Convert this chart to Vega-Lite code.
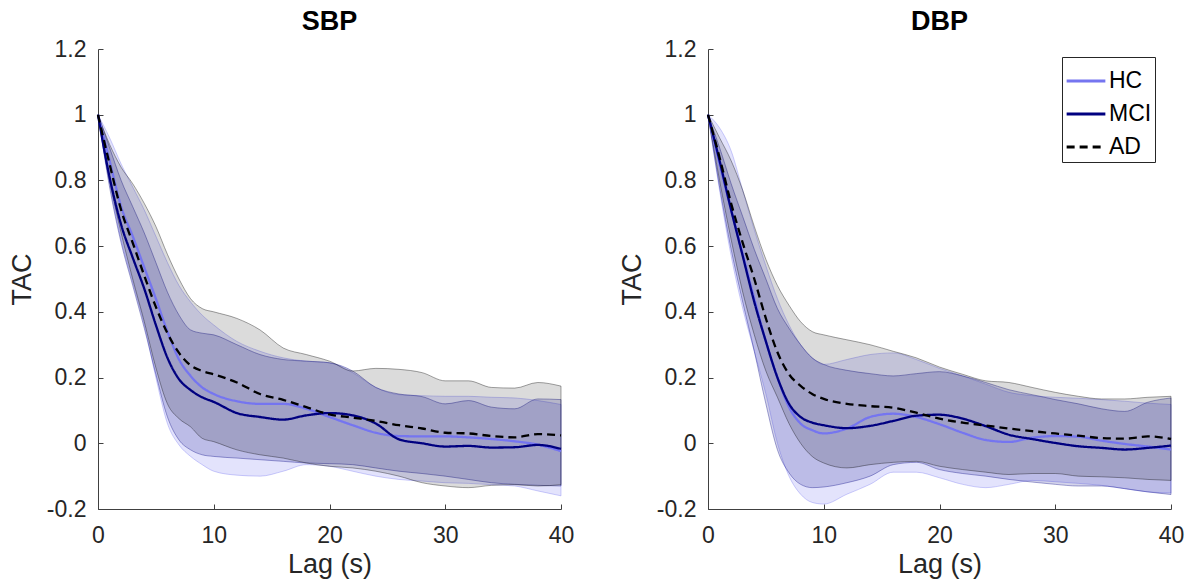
{
"$schema": "https://vega.github.io/schema/vega-lite/v6.json",
"background": "white",
"padding": {"left": 8, "top": 8, "right": 10, "bottom": 4},
"spacing": 44,
"config": {
 "view": {"stroke": null},
 "font": "Liberation Sans",
 "axis": {"labelFont": "Liberation Sans", "labelFontSize": 23, "labelColor": "#262626", "titleFont": "Liberation Sans", "titleFontSize": 27, "titleFontWeight": "normal", "titleColor": "#262626", "domainColor": "#404040", "tickColor": "#404040", "grid": false, "tickSize": -5, "labelFlush": false},
 "axisX": {"titlePadding": 4, "labelPadding": 20},
 "axisY": {"titlePadding": 10, "labelPadding": 17},
 "title": {"font": "Liberation Sans", "fontSize": 27, "fontWeight": "bold", "color": "#000000", "offset": 2, "frame": "group"},
 "legend": {"orient": "none", "legendX": 964, "legendY": 8, "symbolType": "stroke", "symbolSize": 1500, "symbolStrokeWidth": 2.8, "symbolOpacity": 1, "labelFont": "Liberation Sans", "labelFontSize": 23, "labelColor": "#000000", "strokeColor": "#262626", "fillColor": "white", "padding": 3, "rowPadding": 0, "labelOffset": 2, "cornerRadius": 0}
},
"datasets": {"d": [
{"p":"SBP","g":"HC","lag":0,"m":1,"lo":1,"hi":1},
{"p":"SBP","g":"HC","lag":1,"m":0.86,"lo":0.79,"hi":0.93},
{"p":"SBP","g":"HC","lag":2,"m":0.72,"lo":0.62,"hi":0.85},
{"p":"SBP","g":"HC","lag":3,"m":0.63,"lo":0.49,"hi":0.78},
{"p":"SBP","g":"HC","lag":4,"m":0.535,"lo":0.36,"hi":0.71},
{"p":"SBP","g":"HC","lag":5,"m":0.44,"lo":0.2,"hi":0.63},
{"p":"SBP","g":"HC","lag":6,"m":0.34,"lo":0.06,"hi":0.55},
{"p":"SBP","g":"HC","lag":7,"m":0.255,"lo":-0.005,"hi":0.48},
{"p":"SBP","g":"HC","lag":8,"m":0.205,"lo":-0.04,"hi":0.43},
{"p":"SBP","g":"HC","lag":9,"m":0.17,"lo":-0.065,"hi":0.39},
{"p":"SBP","g":"HC","lag":10,"m":0.15,"lo":-0.085,"hi":0.36},
{"p":"SBP","g":"HC","lag":12,"m":0.128,"lo":-0.097,"hi":0.31},
{"p":"SBP","g":"HC","lag":14,"m":0.12,"lo":-0.1,"hi":0.28},
{"p":"SBP","g":"HC","lag":16,"m":0.12,"lo":-0.085,"hi":0.26},
{"p":"SBP","g":"HC","lag":18,"m":0.105,"lo":-0.065,"hi":0.25},
{"p":"SBP","g":"HC","lag":20,"m":0.08,"lo":-0.07,"hi":0.245},
{"p":"SBP","g":"HC","lag":22,"m":0.055,"lo":-0.085,"hi":0.215},
{"p":"SBP","g":"HC","lag":24,"m":0.032,"lo":-0.1,"hi":0.17},
{"p":"SBP","g":"HC","lag":26,"m":0.022,"lo":-0.11,"hi":0.148},
{"p":"SBP","g":"HC","lag":28,"m":0.021,"lo":-0.115,"hi":0.145},
{"p":"SBP","g":"HC","lag":30,"m":0.021,"lo":-0.12,"hi":0.143},
{"p":"SBP","g":"HC","lag":32,"m":0.018,"lo":-0.122,"hi":0.143},
{"p":"SBP","g":"HC","lag":34,"m":0.013,"lo":-0.126,"hi":0.14},
{"p":"SBP","g":"HC","lag":36,"m":0.006,"lo":-0.13,"hi":0.138},
{"p":"SBP","g":"HC","lag":38,"m":-0.004,"lo":-0.145,"hi":0.13},
{"p":"SBP","g":"HC","lag":40,"m":-0.024,"lo":-0.16,"hi":0.118},
{"p":"SBP","g":"MCI","lag":0,"m":1,"lo":1,"hi":1},
{"p":"SBP","g":"MCI","lag":1,"m":0.81,"lo":0.78,"hi":0.9},
{"p":"SBP","g":"MCI","lag":2,"m":0.665,"lo":0.61,"hi":0.8},
{"p":"SBP","g":"MCI","lag":3,"m":0.565,"lo":0.48,"hi":0.72},
{"p":"SBP","g":"MCI","lag":4,"m":0.47,"lo":0.35,"hi":0.64},
{"p":"SBP","g":"MCI","lag":5,"m":0.36,"lo":0.21,"hi":0.55},
{"p":"SBP","g":"MCI","lag":6,"m":0.26,"lo":0.08,"hi":0.46},
{"p":"SBP","g":"MCI","lag":7,"m":0.195,"lo":0.01,"hi":0.39},
{"p":"SBP","g":"MCI","lag":8,"m":0.162,"lo":-0.02,"hi":0.345},
{"p":"SBP","g":"MCI","lag":9,"m":0.14,"lo":-0.035,"hi":0.335},
{"p":"SBP","g":"MCI","lag":10,"m":0.126,"lo":-0.04,"hi":0.33},
{"p":"SBP","g":"MCI","lag":12,"m":0.092,"lo":-0.045,"hi":0.3},
{"p":"SBP","g":"MCI","lag":14,"m":0.08,"lo":-0.05,"hi":0.27},
{"p":"SBP","g":"MCI","lag":16,"m":0.072,"lo":-0.055,"hi":0.255},
{"p":"SBP","g":"MCI","lag":18,"m":0.085,"lo":-0.06,"hi":0.25},
{"p":"SBP","g":"MCI","lag":20,"m":0.092,"lo":-0.062,"hi":0.245},
{"p":"SBP","g":"MCI","lag":22,"m":0.085,"lo":-0.065,"hi":0.22},
{"p":"SBP","g":"MCI","lag":24,"m":0.06,"lo":-0.075,"hi":0.17},
{"p":"SBP","g":"MCI","lag":26,"m":0.012,"lo":-0.085,"hi":0.15},
{"p":"SBP","g":"MCI","lag":28,"m":0,"lo":-0.092,"hi":0.142},
{"p":"SBP","g":"MCI","lag":30,"m":-0.01,"lo":-0.1,"hi":0.12},
{"p":"SBP","g":"MCI","lag":32,"m":-0.008,"lo":-0.11,"hi":0.13},
{"p":"SBP","g":"MCI","lag":34,"m":-0.013,"lo":-0.12,"hi":0.11},
{"p":"SBP","g":"MCI","lag":36,"m":-0.012,"lo":-0.125,"hi":0.105},
{"p":"SBP","g":"MCI","lag":38,"m":-0.005,"lo":-0.128,"hi":0.135},
{"p":"SBP","g":"MCI","lag":40,"m":-0.017,"lo":-0.13,"hi":0.133},
{"p":"SBP","g":"AD","lag":0,"m":1,"lo":1,"hi":1},
{"p":"SBP","g":"AD","lag":1,"m":0.85,"lo":0.8,"hi":0.91},
{"p":"SBP","g":"AD","lag":2,"m":0.71,"lo":0.64,"hi":0.84},
{"p":"SBP","g":"AD","lag":3,"m":0.61,"lo":0.5,"hi":0.79},
{"p":"SBP","g":"AD","lag":4,"m":0.51,"lo":0.37,"hi":0.73},
{"p":"SBP","g":"AD","lag":5,"m":0.415,"lo":0.23,"hi":0.66},
{"p":"SBP","g":"AD","lag":6,"m":0.335,"lo":0.12,"hi":0.575},
{"p":"SBP","g":"AD","lag":7,"m":0.275,"lo":0.075,"hi":0.5},
{"p":"SBP","g":"AD","lag":8,"m":0.237,"lo":0.05,"hi":0.44},
{"p":"SBP","g":"AD","lag":9,"m":0.22,"lo":0.015,"hi":0.41},
{"p":"SBP","g":"AD","lag":10,"m":0.21,"lo":0.005,"hi":0.4},
{"p":"SBP","g":"AD","lag":12,"m":0.185,"lo":-0.02,"hi":0.38},
{"p":"SBP","g":"AD","lag":14,"m":0.15,"lo":-0.035,"hi":0.345},
{"p":"SBP","g":"AD","lag":16,"m":0.132,"lo":-0.045,"hi":0.29},
{"p":"SBP","g":"AD","lag":18,"m":0.11,"lo":-0.06,"hi":0.27},
{"p":"SBP","g":"AD","lag":20,"m":0.088,"lo":-0.07,"hi":0.25},
{"p":"SBP","g":"AD","lag":22,"m":0.078,"lo":-0.075,"hi":0.22},
{"p":"SBP","g":"AD","lag":24,"m":0.068,"lo":-0.085,"hi":0.228},
{"p":"SBP","g":"AD","lag":26,"m":0.055,"lo":-0.1,"hi":0.225},
{"p":"SBP","g":"AD","lag":28,"m":0.045,"lo":-0.12,"hi":0.215},
{"p":"SBP","g":"AD","lag":30,"m":0.032,"lo":-0.13,"hi":0.19},
{"p":"SBP","g":"AD","lag":32,"m":0.03,"lo":-0.135,"hi":0.19},
{"p":"SBP","g":"AD","lag":34,"m":0.022,"lo":-0.128,"hi":0.17},
{"p":"SBP","g":"AD","lag":36,"m":0.018,"lo":-0.126,"hi":0.168},
{"p":"SBP","g":"AD","lag":38,"m":0.028,"lo":-0.13,"hi":0.185},
{"p":"SBP","g":"AD","lag":40,"m":0.024,"lo":-0.126,"hi":0.174},
{"p":"DBP","g":"HC","lag":0,"m":1,"lo":1,"hi":1},
{"p":"DBP","g":"HC","lag":1,"m":0.85,"lo":0.77,"hi":0.96},
{"p":"DBP","g":"HC","lag":2,"m":0.71,"lo":0.57,"hi":0.89},
{"p":"DBP","g":"HC","lag":3,"m":0.575,"lo":0.41,"hi":0.77},
{"p":"DBP","g":"HC","lag":4,"m":0.44,"lo":0.28,"hi":0.65},
{"p":"DBP","g":"HC","lag":5,"m":0.31,"lo":0.15,"hi":0.54},
{"p":"DBP","g":"HC","lag":6,"m":0.2,"lo":0,"hi":0.44},
{"p":"DBP","g":"HC","lag":7,"m":0.11,"lo":-0.1,"hi":0.36},
{"p":"DBP","g":"HC","lag":8,"m":0.06,"lo":-0.155,"hi":0.3},
{"p":"DBP","g":"HC","lag":9,"m":0.04,"lo":-0.18,"hi":0.26},
{"p":"DBP","g":"HC","lag":10,"m":0.03,"lo":-0.185,"hi":0.24},
{"p":"DBP","g":"HC","lag":12,"m":0.045,"lo":-0.155,"hi":0.255},
{"p":"DBP","g":"HC","lag":14,"m":0.08,"lo":-0.125,"hi":0.27},
{"p":"DBP","g":"HC","lag":16,"m":0.09,"lo":-0.088,"hi":0.275},
{"p":"DBP","g":"HC","lag":18,"m":0.08,"lo":-0.088,"hi":0.255},
{"p":"DBP","g":"HC","lag":20,"m":0.058,"lo":-0.105,"hi":0.228},
{"p":"DBP","g":"HC","lag":22,"m":0.032,"lo":-0.125,"hi":0.205},
{"p":"DBP","g":"HC","lag":24,"m":0.01,"lo":-0.135,"hi":0.18},
{"p":"DBP","g":"HC","lag":26,"m":0.004,"lo":-0.125,"hi":0.155},
{"p":"DBP","g":"HC","lag":28,"m":0.017,"lo":-0.113,"hi":0.145},
{"p":"DBP","g":"HC","lag":30,"m":0.022,"lo":-0.117,"hi":0.14},
{"p":"DBP","g":"HC","lag":32,"m":0.02,"lo":-0.122,"hi":0.137},
{"p":"DBP","g":"HC","lag":34,"m":0.008,"lo":-0.128,"hi":0.133},
{"p":"DBP","g":"HC","lag":36,"m":-0.002,"lo":-0.138,"hi":0.128},
{"p":"DBP","g":"HC","lag":38,"m":-0.01,"lo":-0.148,"hi":0.122},
{"p":"DBP","g":"HC","lag":40,"m":-0.019,"lo":-0.151,"hi":0.118},
{"p":"DBP","g":"MCI","lag":0,"m":1,"lo":1,"hi":1},
{"p":"DBP","g":"MCI","lag":1,"m":0.86,"lo":0.78,"hi":0.9},
{"p":"DBP","g":"MCI","lag":2,"m":0.71,"lo":0.59,"hi":0.79},
{"p":"DBP","g":"MCI","lag":3,"m":0.57,"lo":0.43,"hi":0.69},
{"p":"DBP","g":"MCI","lag":4,"m":0.43,"lo":0.28,"hi":0.59},
{"p":"DBP","g":"MCI","lag":5,"m":0.31,"lo":0.12,"hi":0.5},
{"p":"DBP","g":"MCI","lag":6,"m":0.2,"lo":-0.02,"hi":0.41},
{"p":"DBP","g":"MCI","lag":7,"m":0.12,"lo":-0.09,"hi":0.35},
{"p":"DBP","g":"MCI","lag":8,"m":0.08,"lo":-0.125,"hi":0.3},
{"p":"DBP","g":"MCI","lag":9,"m":0.063,"lo":-0.135,"hi":0.26},
{"p":"DBP","g":"MCI","lag":10,"m":0.055,"lo":-0.133,"hi":0.24},
{"p":"DBP","g":"MCI","lag":12,"m":0.046,"lo":-0.12,"hi":0.222},
{"p":"DBP","g":"MCI","lag":14,"m":0.053,"lo":-0.1,"hi":0.212},
{"p":"DBP","g":"MCI","lag":16,"m":0.068,"lo":-0.065,"hi":0.205},
{"p":"DBP","g":"MCI","lag":18,"m":0.084,"lo":-0.058,"hi":0.212},
{"p":"DBP","g":"MCI","lag":20,"m":0.087,"lo":-0.08,"hi":0.218},
{"p":"DBP","g":"MCI","lag":22,"m":0.075,"lo":-0.092,"hi":0.205},
{"p":"DBP","g":"MCI","lag":24,"m":0.052,"lo":-0.1,"hi":0.185},
{"p":"DBP","g":"MCI","lag":26,"m":0.026,"lo":-0.11,"hi":0.163},
{"p":"DBP","g":"MCI","lag":28,"m":0.013,"lo":-0.118,"hi":0.148},
{"p":"DBP","g":"MCI","lag":30,"m":0.001,"lo":-0.125,"hi":0.133},
{"p":"DBP","g":"MCI","lag":32,"m":-0.009,"lo":-0.13,"hi":0.12},
{"p":"DBP","g":"MCI","lag":34,"m":-0.014,"lo":-0.13,"hi":0.105},
{"p":"DBP","g":"MCI","lag":36,"m":-0.019,"lo":-0.138,"hi":0.097},
{"p":"DBP","g":"MCI","lag":38,"m":-0.014,"lo":-0.148,"hi":0.125},
{"p":"DBP","g":"MCI","lag":40,"m":-0.007,"lo":-0.156,"hi":0.138},
{"p":"DBP","g":"AD","lag":0,"m":1,"lo":1,"hi":1},
{"p":"DBP","g":"AD","lag":1,"m":0.87,"lo":0.8,"hi":0.93},
{"p":"DBP","g":"AD","lag":2,"m":0.73,"lo":0.62,"hi":0.86},
{"p":"DBP","g":"AD","lag":3,"m":0.61,"lo":0.46,"hi":0.77},
{"p":"DBP","g":"AD","lag":4,"m":0.5,"lo":0.33,"hi":0.66},
{"p":"DBP","g":"AD","lag":5,"m":0.38,"lo":0.22,"hi":0.56},
{"p":"DBP","g":"AD","lag":6,"m":0.277,"lo":0.14,"hi":0.48},
{"p":"DBP","g":"AD","lag":7,"m":0.21,"lo":0.06,"hi":0.42},
{"p":"DBP","g":"AD","lag":8,"m":0.175,"lo":0,"hi":0.37},
{"p":"DBP","g":"AD","lag":9,"m":0.15,"lo":-0.04,"hi":0.34},
{"p":"DBP","g":"AD","lag":10,"m":0.135,"lo":-0.06,"hi":0.33},
{"p":"DBP","g":"AD","lag":12,"m":0.12,"lo":-0.075,"hi":0.315},
{"p":"DBP","g":"AD","lag":14,"m":0.113,"lo":-0.065,"hi":0.3},
{"p":"DBP","g":"AD","lag":16,"m":0.108,"lo":-0.058,"hi":0.28},
{"p":"DBP","g":"AD","lag":18,"m":0.093,"lo":-0.055,"hi":0.26},
{"p":"DBP","g":"AD","lag":20,"m":0.075,"lo":-0.07,"hi":0.232},
{"p":"DBP","g":"AD","lag":22,"m":0.063,"lo":-0.08,"hi":0.21},
{"p":"DBP","g":"AD","lag":24,"m":0.054,"lo":-0.088,"hi":0.19},
{"p":"DBP","g":"AD","lag":26,"m":0.045,"lo":-0.095,"hi":0.185},
{"p":"DBP","g":"AD","lag":28,"m":0.037,"lo":-0.092,"hi":0.17},
{"p":"DBP","g":"AD","lag":30,"m":0.03,"lo":-0.092,"hi":0.155},
{"p":"DBP","g":"AD","lag":32,"m":0.023,"lo":-0.1,"hi":0.143},
{"p":"DBP","g":"AD","lag":34,"m":0.016,"lo":-0.102,"hi":0.135},
{"p":"DBP","g":"AD","lag":36,"m":0.014,"lo":-0.105,"hi":0.135},
{"p":"DBP","g":"AD","lag":38,"m":0.021,"lo":-0.11,"hi":0.14},
{"p":"DBP","g":"AD","lag":40,"m":0.013,"lo":-0.113,"hi":0.143}
]},
"hconcat": [
{
 "width": 463, "height": 460,
 "title": "SBP",
 "data": {"name": "d"},
 "transform": [{"filter": "datum.p == 'SBP'"}],
 "encoding": {"x": {"field": "lag", "type": "quantitative", "scale": {"domain": [0, 40], "nice": false}, "axis": {"values": [0, 10, 20, 30, 40], "title": "Lag (s)"}}},
 "layer": [
  {"mark": {"type": "area", "interpolate": "monotone", "strokeWidth": 0.8, "strokeOpacity": 0.45},
   "encoding": {
    "y": {"field": "lo", "type": "quantitative", "scale": {"domain": [-0.2, 1.2], "nice": false, "zero": false}, "axis": {"values": [-0.2, 0, 0.2, 0.4, 0.6, 0.8, 1, 1.2], "title": "TAC", "labelExpr": "replace(format(datum.value, '.1~f'), '\u2212', '-')"}},
    "y2": {"field": "hi"},
    "fill": {"field": "g", "type": "nominal", "title": null, "scale": {"domain": ["HC", "MCI", "AD"], "range": ["#7575f0", "#000080", "#000000"]}},
    "stroke": {"field": "g", "type": "nominal", "title": null, "scale": {"domain": ["HC", "MCI", "AD"], "range": ["#7575f0", "#000080", "#000000"]}},
    "fillOpacity": {"field": "g", "type": "nominal", "title": null, "scale": {"domain": ["HC", "MCI", "AD"], "range": [0.2, 0.14, 0.15]}}
   }},
  {"mark": {"type": "line", "interpolate": "monotone", "strokeWidth": 2.3},
   "encoding": {
    "y": {"field": "m", "type": "quantitative"},
    "color": {"field": "g", "type": "nominal", "title": null, "scale": {"domain": ["HC", "MCI", "AD"], "range": ["#7575f0", "#000080", "#000000"]}},
    "strokeDash": {"field": "g", "type": "nominal", "title": null, "scale": {"domain": ["HC", "MCI", "AD"], "range": [[1, 0], [1, 0], [8, 5]]}}
   }}
 ]
},
{
 "width": 463, "height": 460,
 "title": "DBP",
 "data": {"name": "d"},
 "transform": [{"filter": "datum.p == 'DBP'"}],
 "encoding": {"x": {"field": "lag", "type": "quantitative", "scale": {"domain": [0, 40], "nice": false}, "axis": {"values": [0, 10, 20, 30, 40], "title": "Lag (s)"}}},
 "layer": [
  {"mark": {"type": "area", "interpolate": "monotone", "strokeWidth": 0.8, "strokeOpacity": 0.45},
   "encoding": {
    "y": {"field": "lo", "type": "quantitative", "scale": {"domain": [-0.2, 1.2], "nice": false, "zero": false}, "axis": {"values": [-0.2, 0, 0.2, 0.4, 0.6, 0.8, 1, 1.2], "title": "TAC", "labelExpr": "replace(format(datum.value, '.1~f'), '\u2212', '-')"}},
    "y2": {"field": "hi"},
    "fill": {"field": "g", "type": "nominal", "title": null, "scale": {"domain": ["HC", "MCI", "AD"], "range": ["#7575f0", "#000080", "#000000"]}},
    "stroke": {"field": "g", "type": "nominal", "title": null, "scale": {"domain": ["HC", "MCI", "AD"], "range": ["#7575f0", "#000080", "#000000"]}},
    "fillOpacity": {"field": "g", "type": "nominal", "title": null, "scale": {"domain": ["HC", "MCI", "AD"], "range": [0.2, 0.14, 0.15]}}
   }},
  {"mark": {"type": "line", "interpolate": "monotone", "strokeWidth": 2.3},
   "encoding": {
    "y": {"field": "m", "type": "quantitative"},
    "color": {"field": "g", "type": "nominal", "title": null, "scale": {"domain": ["HC", "MCI", "AD"], "range": ["#7575f0", "#000080", "#000000"]}},
    "strokeDash": {"field": "g", "type": "nominal", "title": null, "scale": {"domain": ["HC", "MCI", "AD"], "range": [[1, 0], [1, 0], [8, 5]]}}
   }}
 ]
}
]
}
